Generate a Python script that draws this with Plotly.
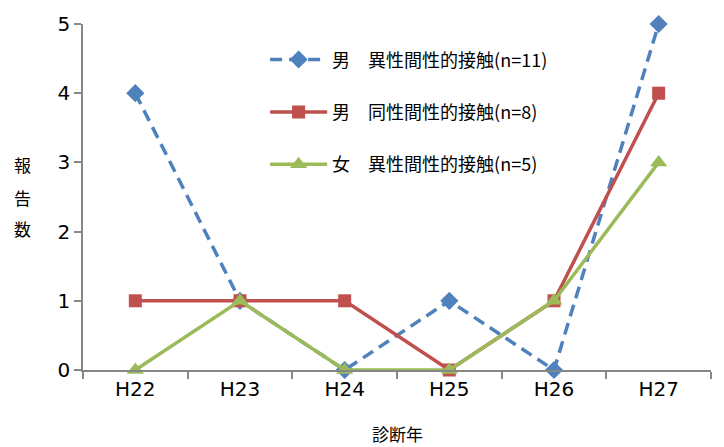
import plotly.graph_objects as go

categories = ["H22", "H23", "H24", "H25", "H26", "H27"]
male_hetero = [4, 1, 0, 1, 0, 5]
male_homo = [1, 1, 1, 0, 1, 4]
female_hetero = [0, 1, 0, 0, 1, 3]
series_names = ["男　異性間性的接触(n=11)", "男　同性間性的接触(n=8)", "女　異性間性的接触(n=5)"]
y_ticks = [0, 1, 2, 3, 4, 5]

JP = "Noto Sans CJK JP"
NUM = "DejaVu Sans"

fig = go.Figure()
fig.add_trace(go.Scatter(
    x=categories, y=male_hetero, name=series_names[0], mode="lines+markers",
    line=dict(color="#4F81BD", width=3.5, dash="12px,7px"),
    marker=dict(symbol="diamond", size=14, color="#4F81BD"),
    cliponaxis=False, legendgroup="a"))
fig.add_trace(go.Scatter(
    x=categories, y=male_homo, name=series_names[1], mode="lines+markers",
    line=dict(color="#C0504D", width=3.5),
    marker=dict(symbol="square", size=13, color="#C0504D"),
    cliponaxis=False, legendgroup="b"))
fig.add_trace(go.Scatter(
    x=categories, y=female_hetero, name=series_names[2], mode="lines+markers",
    line=dict(color="#9BBB59", width=3.5),
    marker=dict(symbol="triangle-up", size=15, color="#9BBB59"),
    cliponaxis=False, legendgroup="c"))

# page body has an 8px margin; figure is laid out in page coords minus 8
fig.update_layout(
    width=716, height=439,
    margin=dict(l=75, r=13, t=16, b=77),
    paper_bgcolor="white", plot_bgcolor="white",
    showlegend=True,
    legend=dict(x=0.29, y=0.95, xanchor="left", yanchor="top",
                font=dict(family=JP, size=18, color="#000"),
                traceorder="grouped", tracegroupgap=26, itemwidth=57,
                bgcolor="rgba(0,0,0,0)"),
    xaxis=dict(type="category", range=[-0.5, 5.5], tickson="boundaries",
               ticks="outside", ticklen=7, tickcolor="#868686", tickwidth=1.5,
               showline=True, linecolor="#868686", linewidth=1.5,
               showgrid=False, zeroline=False, automargin=False,
               tickfont=dict(family=NUM, size=20, color="#000")),
    yaxis=dict(range=[0, 5], tickvals=y_ticks,
               ticks="outside", ticklen=7, tickcolor="#868686", tickwidth=1.5,
               showline=True, linecolor="#868686", linewidth=1.5,
               showgrid=False, zeroline=False, automargin=False,
               tickfont=dict(family=NUM, size=20, color="#000")),
)

for ch, py in zip("報告数", [164, 197, 228]):
    fig.add_annotation(text=ch, xref="paper", yref="paper",
                       x=-0.097, y=(370 - py) / 346, showarrow=False,
                       font=dict(family=JP, size=17, color="#000"),
                       xanchor="center", yanchor="middle")

fig.add_annotation(text="診断年", xref="paper", yref="paper",
                   x=0.5, y=(370 - 433) / 346, showarrow=False,
                   font=dict(family=JP, size=17, color="#000"),
                   xanchor="center", yanchor="middle")

fig.write_html("out.html")
